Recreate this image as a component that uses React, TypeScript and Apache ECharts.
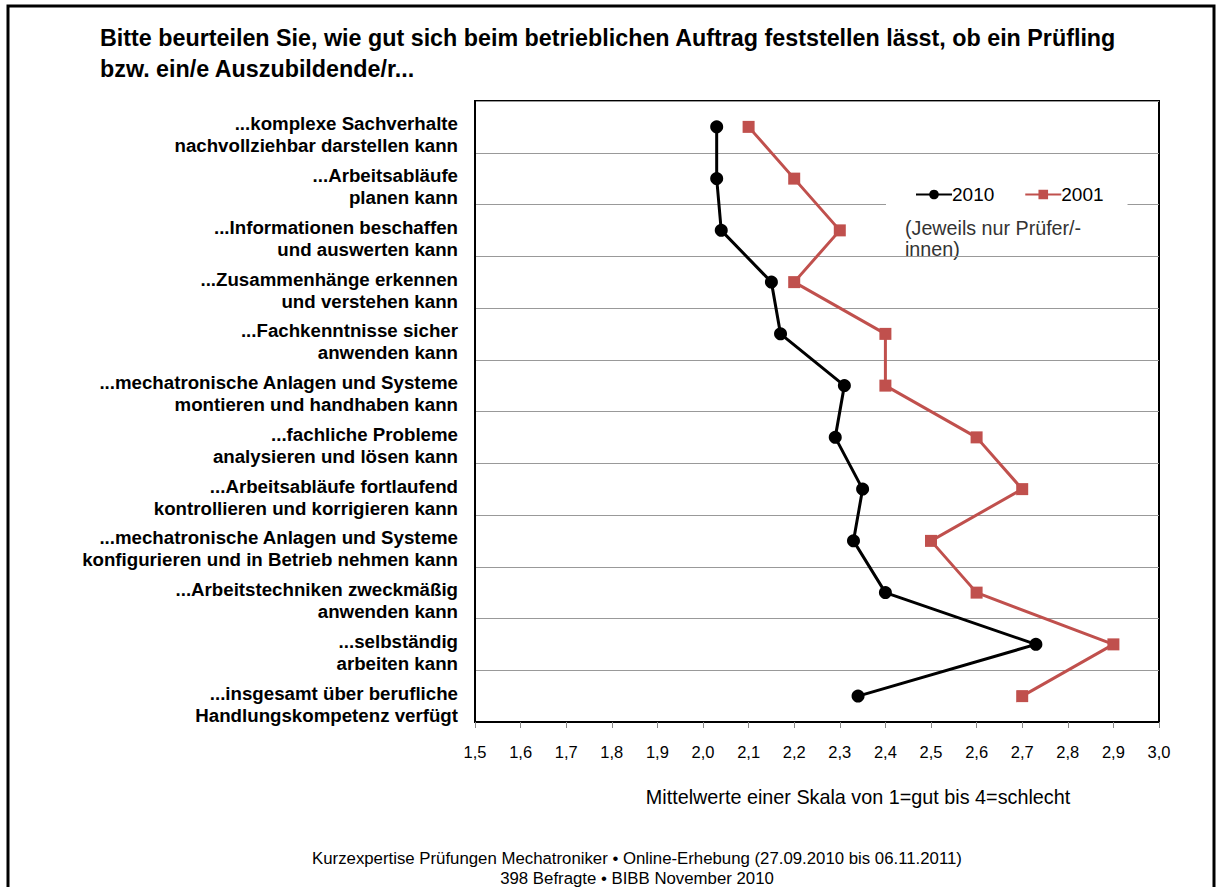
import React, { useEffect, useRef } from "react";
import * as echarts from "echarts";

const categories: string[] = [
  "...komplexe Sachverhalte\nnachvollziehbar darstellen kann",
  "...Arbeitsabläufe\nplanen kann",
  "...Informationen beschaffen\nund auswerten kann",
  "...Zusammenhänge erkennen\nund verstehen kann",
  "...Fachkenntnisse sicher\nanwenden kann",
  "...mechatronische Anlagen und Systeme\nmontieren und handhaben kann",
  "...fachliche Probleme\nanalysieren und lösen kann",
  "...Arbeitsabläufe fortlaufend\nkontrollieren und korrigieren kann",
  "...mechatronische Anlagen und Systeme\nkonfigurieren und in Betrieb nehmen kann",
  "...Arbeitstechniken zweckmäßig\nanwenden kann",
  "...selbständig\narbeiten kann",
  "...insgesamt über berufliche\nHandlungskompetenz verfügt",
];

const values2010: number[] = [2.03, 2.03, 2.04, 2.15, 2.17, 2.31, 2.29, 2.35, 2.33, 2.4, 2.73, 2.34];
const values2001: number[] = [2.1, 2.2, 2.3, 2.2, 2.4, 2.4, 2.6, 2.7, 2.5, 2.6, 2.9, 2.7];

const titleLines = [
  "Bitte beurteilen Sie, wie gut sich beim betrieblichen Auftrag feststellen lässt, ob ein Prüfling",
  "bzw. ein/e Auszubildende/r...",
];
const xAxisTitle = "Mittelwerte einer Skala von 1=gut bis 4=schlecht";
const noteText = "(Jeweils nur Prüfer/-\ninnen)";
const footerLines = [
  "Kurzexpertise Prüfungen Mechatroniker • Online-Erhebung (27.09.2010 bis 06.11.2011)",
  "398 Befragte • BIBB November 2010",
];

const FONT = "'Liberation Sans', Arial, sans-serif";

export default function App() {
  const ref = useRef<HTMLDivElement>(null);
  useEffect(() => {
    if (!ref.current) return;
    const chart = echarts.init(ref.current, undefined, { renderer: "svg" });
    chart.setOption({
      animation: false,
      backgroundColor: "#ffffff",
      textStyle: { fontFamily: FONT },
      grid: [
        {
          left: 475,
          right: 59,
          top: 101,
          bottom: 165,
          show: true,
          borderColor: "#000",
          borderWidth: 2,
          containLabel: false,
        },
        {
          left: 475,
          right: 59,
          top: 109,
          bottom: 157,
          show: false,
          containLabel: false,
        },
      ],
      xAxis: [
        {
          type: "value",
          gridIndex: 0,
          min: 1.5,
          max: 3.0,
          interval: 0.1,
          axisLine: { show: true, lineStyle: { color: "#000", width: 2 } },
          axisTick: { show: true, inside: false, length: 6, lineStyle: { color: "#888" } },
          axisLabel: {
            fontSize: 16.5,
            color: "#000",
            margin: 21,
            fontFamily: FONT,
            formatter: (v: number) => v.toFixed(1).replace(".", ","),
          },
          splitLine: { show: false },
        },
        {
          type: "value",
          gridIndex: 1,
          min: 1.5,
          max: 3.0,
          show: false,
        },
      ],
      yAxis: [
        {
          type: "category",
          gridIndex: 0,
          data: categories,
          inverse: true,
          boundaryGap: true,
          axisLine: { show: true, lineStyle: { color: "#000", width: 2 } },
          axisTick: { show: false },
          axisLabel: { show: false },
          splitLine: { show: true, lineStyle: { color: "#999", width: 1 } },
        },
        {
          type: "category",
          gridIndex: 1,
          data: categories,
          inverse: true,
          boundaryGap: true,
          axisLine: { show: false },
          axisTick: { show: false },
          splitLine: { show: false },
          axisLabel: {
            interval: 0,
            fontSize: 18.7,
            fontWeight: "bold",
            color: "#000",
            lineHeight: 22,
            margin: 17,
            align: "right",
            fontFamily: FONT,
          },
        },
      ],
      legend: {
        left: 886,
        top: 181,
        backgroundColor: "#ffffff",
        padding: [4, 24, 4, 29],
        itemGap: 30,
        itemWidth: 36,
        itemHeight: 12,
        textStyle: { fontSize: 19, color: "#000", fontFamily: FONT, padding: [0, 0, 0, -5] },
        data: ["2010", "2001"],
      },
      graphic: [
        {
          type: "rect",
          shape: { x: 8, y: 6, width: 1206, height: 900 },
          style: { fill: "none", stroke: "#000", lineWidth: 3 },
          silent: true,
        },
        {
          type: "text",
          left: 100,
          top: 22,
          style: {
            text: titleLines.join("\n"),
            font: `bold 23.3px ${FONT}`,
            fill: "#000",
            lineHeight: 31,
          },
        },
        {
          type: "text",
          left: 905,
          top: 217,
          style: {
            text: noteText,
            font: `19.7px ${FONT}`,
            fill: "#333",
            lineHeight: 21,
          },
        },
        {
          type: "text",
          x: 858,
          y: 797,
          style: {
            text: xAxisTitle,
            font: `19.8px ${FONT}`,
            fill: "#000",
            align: "center",
            verticalAlign: "middle",
          },
        },
        {
          type: "text",
          x: 637,
          y: 848,
          style: {
            text: footerLines.join("\n"),
            font: `16.8px ${FONT}`,
            fill: "#000",
            align: "center",
            lineHeight: 20,
          },
        },
      ],
      series: [
        {
          name: "2010",
          type: "line",
          xAxisIndex: 0,
          yAxisIndex: 0,
          data: values2010,
          symbol: "circle",
          symbolSize: 13,
          color: "#000000",
          lineStyle: { color: "#000000", width: 3 },
          itemStyle: { color: "#000000" },
        },
        {
          name: "2001",
          type: "line",
          xAxisIndex: 0,
          yAxisIndex: 0,
          data: values2001,
          symbol: "rect",
          symbolSize: 12,
          color: "#C0504D",
          lineStyle: { color: "#C0504D", width: 3 },
          itemStyle: { color: "#C0504D" },
        },
      ],
    });
    return () => chart.dispose();
  }, []);
  return (
    <div
      ref={ref}
      style={{ position: "fixed", left: 0, top: 0, width: 1218, height: 887 }}
    />
  );
}
